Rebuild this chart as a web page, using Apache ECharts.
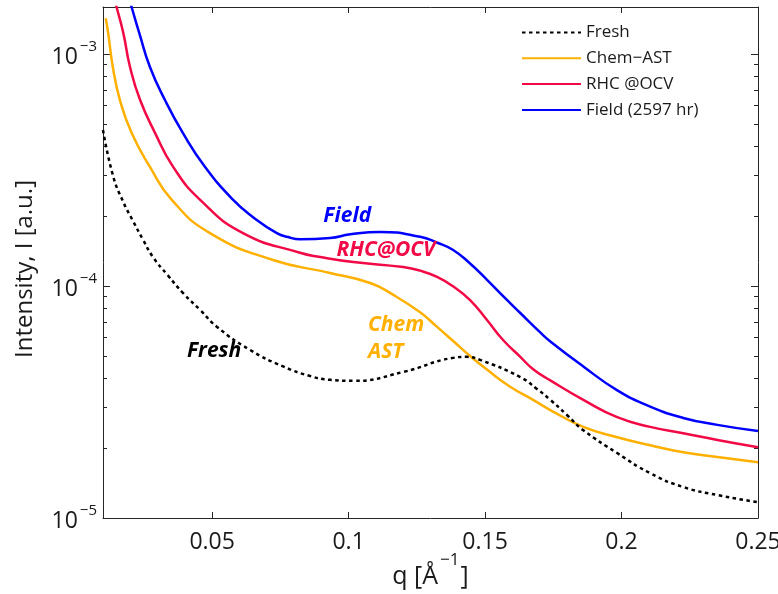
<!DOCTYPE html>
<html><head><meta charset="utf-8">
<script src="https://cdn.jsdelivr.net/npm/echarts@6/dist/echarts.min.js"></script>
<style>html,body{margin:0;padding:0;background:#fff}#c{width:778px;height:594px}</style>
</head><body><div id="c"></div>
<script>
// ---- data (q in 1/Å, intensity in a.u.) ----
const qFresh = [0.0100,0.0137,0.0173,0.0210,0.0247,0.0283,0.0338,0.0393,0.0456,0.0518,0.0639,0.0760,0.0859,0.0932,0.1017,0.1200,0.1383,0.1430,0.1482,0.1629,0.1690,0.1739,0.1800,0.1860,0.1984,0.2105,0.2226,0.2351,0.2500];
const iFresh = [4.70e-4,2.98e-4,2.32e-4,1.905e-4,1.58e-4,1.333e-4,1.11e-4,9.33e-5,7.88e-5,6.66e-5,5.30e-5,4.50e-5,4.09e-5,3.94e-5,3.90e-5,4.26e-5,4.90e-5,4.95e-5,4.80e-5,4.05e-5,3.60e-5,3.23e-5,2.78e-5,2.39e-5,1.905e-5,1.56e-5,1.36e-5,1.256e-5,1.17e-5];

const qChem = [0.0110,0.0119,0.0136,0.0162,0.0205,0.0272,0.0352,0.0492,0.0723,0.0932,0.1079,0.1164,0.1262,0.1323,0.1383,0.1445,0.1508,0.1592,0.1676,0.1739,0.1860,0.1984,0.2105,0.2226,0.2351,0.2500];
const iChem = [1.425e-3,1.23e-3,8.79e-4,6.33e-4,4.56e-4,3.26e-4,2.35e-4,1.69e-4,1.294e-4,1.138e-4,1.03e-4,9.15e-5,7.70e-5,6.68e-5,5.79e-5,4.99e-5,4.35e-5,3.68e-5,3.23e-5,2.92e-5,2.47e-5,2.23e-5,2.06e-5,1.92e-5,1.83e-5,1.74e-5];

const qRhc = [0.0130,0.0150,0.01745,0.0199,0.0236,0.0291,0.0357,0.0456,0.0613,0.0822,0.0896,0.1017,0.1200,0.1262,0.1324,0.1384,0.1445,0.1507,0.1566,0.1629,0.1676,0.1739,0.1860,0.1984,0.2105,0.2226,0.2351,0.2500];
const iRhc = [1.97e-3,1.59e-3,1.23e-3,8.79e-4,6.33e-4,4.56e-4,3.26e-4,2.35e-4,1.69e-4,1.39e-4,1.333e-4,1.268e-4,1.207e-4,1.165e-4,1.094e-4,9.94e-5,8.70e-5,7.13e-5,5.85e-5,4.95e-5,4.38e-5,3.92e-5,3.23e-5,2.72e-5,2.47e-5,2.32e-5,2.17e-5,2.02e-5];

const qField = [0.0180,0.0205,0.0233,0.0272,0.0327,0.0393,0.0474,0.0577,0.0650,0.0737,0.0778,0.0822,0.0932,0.1006,0.1116,0.1262,0.1323,0.1383,0.1445,0.1508,0.1568,0.1629,0.1702,0.1739,0.1861,0.1983,0.2105,0.2226,0.2351,0.2500];
const iField = [2.0e-3,1.59e-3,1.23e-3,8.79e-4,6.33e-4,4.56e-4,3.26e-4,2.35e-4,1.98e-4,1.69e-4,1.625e-4,1.59e-4,1.61e-4,1.67e-4,1.71e-4,1.63e-4,1.54e-4,1.43e-4,1.25e-4,1.061e-4,8.99e-5,7.65e-5,6.31e-5,5.77e-5,4.49e-5,3.56e-5,3.02e-5,2.70e-5,2.52e-5,2.37e-5];

const seriesNames = ['Fresh','Chem\u2212AST','RHC @OCV','Field (2597 hr)'];
const xTicks = [0.05,0.10,0.15,0.20,0.25];
const yMajor = [1e-5,1e-4,1e-3];
const yMinor = [2e-5,3e-5,4e-5,5e-5,6e-5,7e-5,8e-5,9e-5,2e-4,3e-4,4e-4,5e-4,6e-4,7e-4,8e-4,9e-4];
const annoText = ['Field','RHC@OCV','Chem','AST','Fresh'];
const annoQ = [0.0995,0.1137,0.1071,0.1071,0.0507];
const annoI = [2.00e-4,1.43e-4,6.79e-5,5.20e-5,5.25e-5];

// ---- styling ----
const FONT = 'Open Sans';
const cBlack = '#000000', cChem = '#FFB000', cRhc = '#F20A46', cField = '#0000FF';
const annoColor = [cField, cRhc, cChem, cChem, cBlack];
const annoAlign = ['center','center','left','left','center'];
const axisCol = '#262626', txtCol = '#1a1a1a';
const X_MIN = 0.01, X_MAX = 0.25, Y_MIN = 1e-5, Y_MAX = 1.594e-3;

function zip(q, v){ return q.map((x,i)=>[x, v[i]]); }

function xAxisCfg(pos, showLabel){
  return {
    type:'value', position:pos, min:X_MIN, max:X_MAX, nameMoveOverlap:false,
    axisLine:{show:true, onZero:false, lineStyle:{color:axisCol, width:1}},
    axisTick:{show:true, inside:true, length:6, customValues:xTicks, lineStyle:{color:axisCol}},
    axisLabel:{show:showLabel, customValues:xTicks, margin:13, fontFamily:FONT, fontSize:23, color:txtCol,
      formatter:(v)=>String(+v.toFixed(2))},
    splitLine:{show:false}, minorTick:{show:false}
  };
}
function yAxisCfg(pos, ticks, len, showLabel, showLine){
  return {
    type:'log', logBase:10, position:pos, min:Y_MIN, max:Y_MAX, nameMoveOverlap:false,
    axisLine:{show:showLine, onZero:false, lineStyle:{color:axisCol, width:1}},
    axisTick:{show:true, inside:true, length:len, customValues:ticks, lineStyle:{color:axisCol}},
    axisLabel:{show:showLabel, customValues:yMajor, margin:6,
      formatter:(v)=>'{b|10}{s|\u2212' + Math.abs(Math.round(Math.log10(v))) + '}',
      rich:{
        b:{fontFamily:FONT, fontSize:23, color:txtCol, verticalAlign:'bottom', lineHeight:29},
        s:{fontFamily:FONT, fontSize:15, color:txtCol, verticalAlign:'top', lineHeight:15, padding:[0,0,0,2]}
      }},
    splitLine:{show:false}, minorTick:{show:false}
  };
}

const chart = echarts.init(document.getElementById('c'), null, {renderer:'canvas'});
const lineBase = {type:'line', showSymbol:false, symbol:'none', smooth:0.5, clip:true, xAxisIndex:0, yAxisIndex:0};

chart.setOption({
  animation:false,
  backgroundColor:'#ffffff',
  grid:{left:103, right:20, top:7, bottom:76, containLabel:false, outerBoundsMode:'none'},
  legend:{
    data:seriesNames, orient:'vertical', left:521, top:24, padding:0,
    itemWidth:59, itemHeight:16, itemGap:8.8, itemTextGap:7,
    itemStyle:{color:'rgba(0,0,0,0)', borderColor:'rgba(0,0,0,0)', borderWidth:0, opacity:0},
    textStyle:{fontFamily:FONT, fontSize:17, color:txtCol, lineHeight:16},
    selectedMode:false
  },
  xAxis:[
    Object.assign(xAxisCfg('bottom', true), {
      name:'{n|q [\u00C5}{s|\u22121}{n|]}', nameLocation:'middle', nameGap:41,
      nameTextStyle:{rich:{
        n:{fontFamily:FONT, fontSize:25, color:txtCol, verticalAlign:'bottom', lineHeight:30},
        s:{fontFamily:FONT, fontSize:17, color:txtCol, verticalAlign:'bottom', lineHeight:17, padding:[0,1,20,2]}
      }}
    }),
    xAxisCfg('top', false)
  ],
  yAxis:[
    Object.assign(yAxisCfg('left', yMajor, 7, true, true), {
      name:'Intensity, I [a.u.]', nameLocation:'middle', nameGap:66,
      nameTextStyle:{fontFamily:FONT, fontSize:24, color:txtCol, padding:[0,13,0,0]}
    }),
    yAxisCfg('left', yMinor, 4, false, false),
    yAxisCfg('right', yMajor, 7, false, true),
    yAxisCfg('right', yMinor, 4, false, false)
  ],
  series:[
    Object.assign({}, lineBase, {name:seriesNames[0], data:zip(qFresh,iFresh), z:5,
      lineStyle:{color:cBlack, width:2.5, type:[3.5,3.5]}, itemStyle:{color:cBlack}}),
    Object.assign({}, lineBase, {name:seriesNames[1], data:zip(qChem,iChem), z:4,
      lineStyle:{color:cChem, width:2.5}, itemStyle:{color:cChem}}),
    Object.assign({}, lineBase, {name:seriesNames[2], data:zip(qRhc,iRhc), z:4,
      lineStyle:{color:cRhc, width:2.5}, itemStyle:{color:cRhc}}),
    Object.assign({}, lineBase, {name:seriesNames[3], data:zip(qField,iField), z:4,
      lineStyle:{color:cField, width:2.5}, itemStyle:{color:cField}}),
    {
      type:'scatter', name:'annotations', silent:true, symbolSize:0, z:10,
      xAxisIndex:0, yAxisIndex:0, itemStyle:{opacity:1},
      data: annoText.map((t,i)=>({
        value:[annoQ[i], annoI[i]], name:t,
        label:{show:true, position:'inside', formatter:t, align:annoAlign[i], verticalAlign:'middle',
          fontFamily:FONT, fontSize:21, fontWeight:'bold', fontStyle:'italic', color:annoColor[i], opacity:1}
      }))
    }
  ]
});
</script>
</body></html>
